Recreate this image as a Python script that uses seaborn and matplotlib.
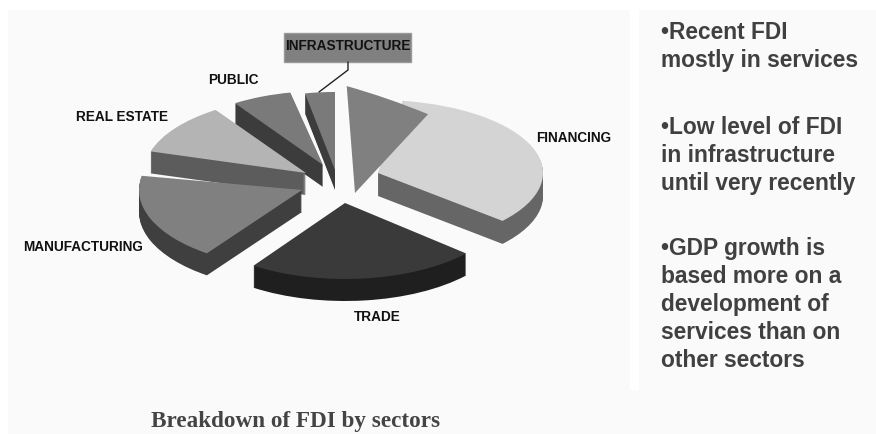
# Breakdown of FDI by sectors, exploded 3D look pie

import seaborn as sns
import matplotlib.pyplot as plt
from matplotlib.patches import Rectangle
from matplotlib.transforms import Affine2D

# Data (share of FDI in %, clockwise from the top)
sectors = ['OTHER', 'FINANCING', 'TRADE', 'MANUFACTURING', 'REAL ESTATE', 'PUBLIC', 'INFRASTRUCTURE']
shares = [5, 34, 23, 18, 11, 6, 3]
notes = ['•Recent FDI\nmostly in services',
         '•Low level of FDI\nin infrastructure\nuntil very recently',
         '•GDP growth is\nbased more on a\ndevelopment of\nservices than on\nother sectors']
title = 'Breakdown of FDI by sectors'

# Look of each slice, same order as sectors
top_colors = ['#808080', '#d4d4d4', '#3a3a3a', '#808080', '#b4b4b4', '#7a7a7a', '#7a7a7a']
side_colors = ['#808080', '#666666', '#1f1f1f', '#3f3f3f', '#5c5c5c', '#3c3c3c', '#3c3c3c']
depths = [0, 23, 22, 22, 22, 22, 20]
layers = [3, 0, 6, 5, 4, 2, 1]

# rotation, then the ellipse matrix (a, b, c, d) and the explode position, in pixels
rotations = [9, 9.4, 8.8, 7.5, 1.5, 1, 0]
shapes = [(260, 32.8, -90, 94), (165, 0, 0, 73), (162, 0, 0, 76), (163, 0, 0, 78),
          (162, 0, 0, 76), (160, 0, 0, 74), (160, 0, 0, 78)]
centers = [(355, 193), (378, 173), (345, 203), (302, 190), (306, 173), (323, 165), (335, 170)]


def place(wedges, ax, shift=0):
    for i, w in enumerate(wedges):
        a, b, c, d = shapes[i]
        tr = Affine2D().rotate_deg(rotations[i])
        tr = tr + Affine2D.from_values(a, -c, b, -d, centers[i][0], centers[i][1] + shift)
        w.set_transform(tr + ax.transData)


sns.set_theme(style='white')
plt.rcParams['font.family'] = ['Liberation Sans', 'DejaVu Sans']

fig = plt.figure(figsize=(8.76, 4.34), dpi=100)
ax = fig.add_axes([0, 0, 1, 1])

# Side walls: the same pie stacked downwards, then the top faces
for shift in range(max(depths), 0, -1):
    wedges, _ = ax.pie(shares, startangle=90, counterclock=False, colors=side_colors,
                       wedgeprops=dict(linewidth=0))
    place(wedges, ax, shift)
    for i, w in enumerate(wedges):
        w.set_zorder(2 + layers[i] * 2)
        w.set_visible(shift <= depths[i])

wedges, _ = ax.pie(shares, startangle=90, counterclock=False, colors=top_colors,
                   wedgeprops=dict(linewidth=0))
place(wedges, ax)
for i, w in enumerate(wedges):
    w.set_zorder(3 + layers[i] * 2)

ax.set_aspect('auto')
ax.set_xlim(0, 876)
ax.set_ylim(434, 0)
ax.set_axis_off()

# Pale slide panels behind the pie and the notes
ax.add_patch(Rectangle((8, 10), 622, 424, fc='#fafafa', ec='none', zorder=0))
ax.add_patch(Rectangle((639, 10), 237, 424, fc='#fafafa', ec='none', zorder=0))
ax.add_patch(Rectangle((630, 390), 9, 44, fc='#fafafa', ec='none', zorder=0))

# Labels
label_font = dict(family=['Liberation Sans'], fontweight='bold', color='#111111', fontsize=9.8,
                  ha='center', va='center', zorder=30)
ax.text(574, 138, sectors[1], **label_font)
ax.text(377, 317, sectors[2], **label_font)
ax.text(83, 247, sectors[3], **label_font)
ax.text(122, 117, sectors[4], **label_font)
ax.text(233, 80, sectors[5], **label_font)

ax.add_patch(Rectangle((284, 33), 127, 29, fc='#808080', ec='#9a9a9a', lw=1, zorder=28))
ax.plot([348, 348, 319], [62, 70, 92], color='#222222', lw=1, zorder=28)
ax.text(348, 46, sectors[6], **label_font)

# Right hand notes
note_font = dict(family=['Liberation Sans'], fontweight='bold', color='#404040', fontsize=16.4,
                 va='top', ha='left', linespacing=1.277, zorder=30)
ax.text(661, 21, notes[0], **note_font)
ax.text(661, 116, notes[1], **note_font)
ax.text(661, 237, notes[2], **note_font)

ax.text(296, 422, title, family=['Liberation Serif'], fontweight='bold', color='#444444',
        fontsize=16.7, ha='center', va='center')

plt.savefig('out.png', dpi=100)
